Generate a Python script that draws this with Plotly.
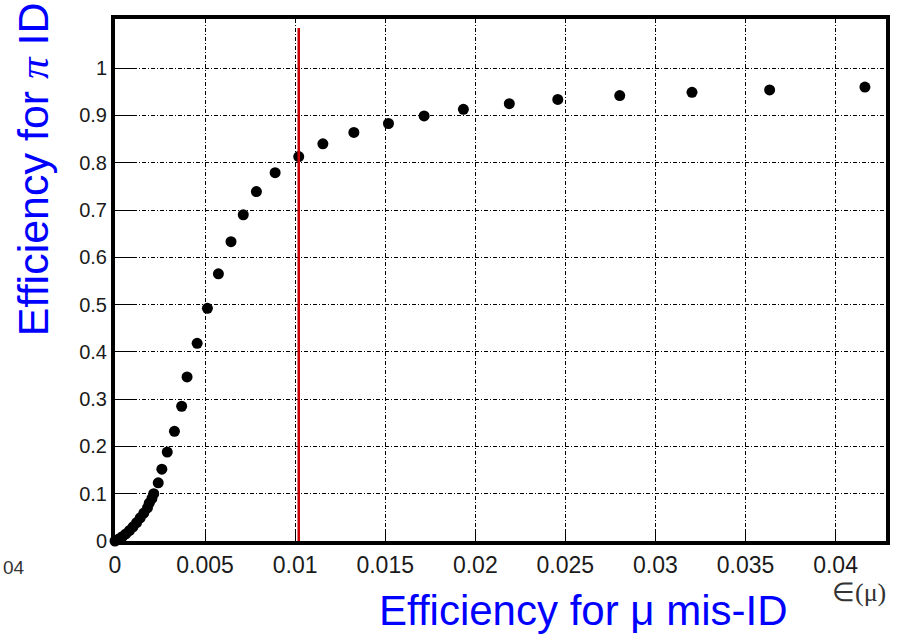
import plotly.graph_objects as go

# Data (efficiency for mu mis-ID vs efficiency for pi ID)
mu_misid = [0.0, 0.0002, 0.0004, 0.0006, 0.0008, 0.0010, 0.0012, 0.0014, 0.0016,
            0.0018, 0.0019, 0.00205, 0.00215, 0.0024, 0.0026, 0.0029, 0.0033,
            0.0037, 0.0040, 0.00456, 0.00513, 0.00574, 0.00644, 0.00712,
            0.00785, 0.00889, 0.01020, 0.01154, 0.01326, 0.01518, 0.01716,
            0.01934, 0.02189, 0.02458, 0.02802, 0.03203, 0.03634, 0.04163]
pi_eff = [0.0, 0.004, 0.009, 0.015, 0.022, 0.030, 0.039, 0.049, 0.059,
          0.070, 0.080, 0.090, 0.100, 0.123, 0.152, 0.188, 0.232,
          0.285, 0.347, 0.418, 0.492, 0.565, 0.633, 0.690,
          0.739, 0.779, 0.813, 0.840, 0.864, 0.883, 0.899,
          0.913, 0.925, 0.934, 0.942, 0.949, 0.954, 0.960]

x_tickvals = [0, 0.005, 0.01, 0.015, 0.02, 0.025, 0.03, 0.035, 0.04]
x_ticktext = ["0", "0.005", "0.01", "0.015", "0.02", "0.025", "0.03", "0.035", "0.04"]
y_tickvals = [0, 0.1, 0.2, 0.3, 0.4, 0.5, 0.6, 0.7, 0.8, 0.9, 1.0]
y_ticktext = ["0", "0.1", "0.2", "0.3", "0.4", "0.5", "0.6", "0.7", "0.8", "0.9", "1"]

cut_x = 0.0102      # red cut line position
cut_top = 1.085     # red cut line upper end

x_range = [0, 0.0428]
y_range = [0, 1.104]

FONT = "Liberation Sans, Arial, sans-serif"
GRID_DASH = "4px,2px,1px,2px"

fig = go.Figure()
fig.add_trace(go.Scatter(
    x=mu_misid, y=pi_eff, mode="markers",
    marker=dict(color="black", size=11, line=dict(width=0)),
    showlegend=False, cliponaxis=False,
))

fig.add_shape(type="line", xref="x", yref="y",
              x0=cut_x, x1=cut_x, y0=0, y1=cut_top,
              line=dict(color="#cc0000", width=2.5))

fig.update_xaxes(
    range=x_range, tickvals=x_tickvals, ticktext=x_ticktext,
    showline=True, linecolor="black", linewidth=4, mirror=True,
    ticks="inside", ticklen=11, tickcolor="black", tickwidth=1,
    showgrid=True, gridcolor="black", gridwidth=1, griddash=GRID_DASH,
    zeroline=False,
    tickfont=dict(family=FONT, size=23, color="#1a1a1a"),
)
fig.update_yaxes(
    range=y_range, tickvals=y_tickvals, ticktext=y_ticktext,
    showline=True, linecolor="black", linewidth=4, mirror=True,
    ticks="inside", ticklen=20, tickcolor="black", tickwidth=1,
    showgrid=True, gridcolor="black", gridwidth=1, griddash=GRID_DASH,
    zeroline=False,
    tickfont=dict(family=FONT, size=20, color="#1a1a1a"),
)

L, R, T, B = 115, 14, 19, 96
W, H = 902, 637
pw = W - L - R
ph = H - T - B

def px(x):
    return (x - L) / pw

def py(y):
    return (H - B - y) / ph

annotations = [
    dict(text="Efficiency for <span style=\"font-family:'Liberation Serif'\"><i>π</i></span> ID",
         xref="paper", yref="paper", x=px(33), y=py(169),
         xanchor="center", yanchor="middle", textangle=-90, showarrow=False,
         font=dict(family=FONT, size=43, color="#0000ff")),
    dict(text="Efficiency for μ mis-ID",
         xref="paper", yref="paper", x=px(585), y=py(610),
         xanchor="center", yanchor="middle", showarrow=False,
         font=dict(family=FONT, size=42, color="#0000ff")),
    dict(text="∈(μ)",
         xref="paper", yref="paper", x=px(861), y=py(592),
         xanchor="center", yanchor="middle", showarrow=False,
         font=dict(family="Liberation Serif, Times New Roman, serif", size=26, color="#333333")),
    dict(text="04",
         xref="paper", yref="paper", x=px(1), y=py(567),
         xanchor="left", yanchor="middle", showarrow=False,
         font=dict(family=FONT, size=19, color="#333333")),
]

fig.update_layout(
    width=W, height=H,
    margin=dict(l=L, r=R, t=T, b=B, pad=0),
    paper_bgcolor="white", plot_bgcolor="white",
    annotations=annotations,
    showlegend=False,
)

fig.write_html("out.html")
